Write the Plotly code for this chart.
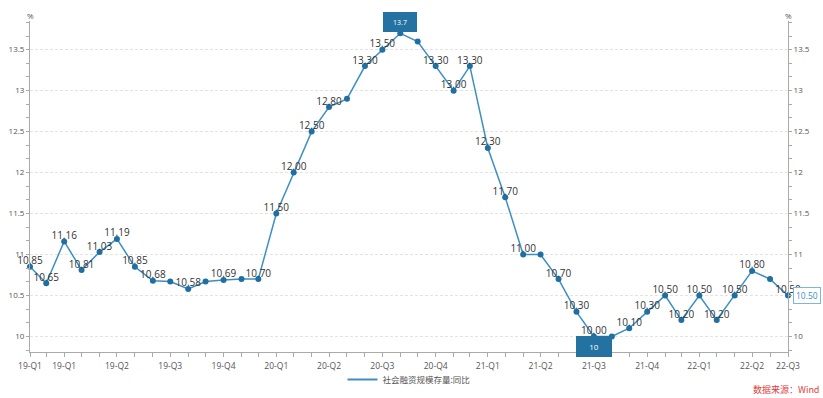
import plotly.graph_objects as go

dates = [
    "2019-01-31", "2019-02-28", "2019-03-31", "2019-04-30", "2019-05-31", "2019-06-30",
    "2019-07-31", "2019-08-31", "2019-09-30", "2019-10-31", "2019-11-30", "2019-12-31",
    "2020-01-31", "2020-02-29", "2020-03-31", "2020-04-30", "2020-05-31", "2020-06-30",
    "2020-07-31", "2020-08-31", "2020-09-30", "2020-10-31", "2020-11-30", "2020-12-31",
    "2021-01-31", "2021-02-28", "2021-03-31", "2021-04-30", "2021-05-31", "2021-06-30",
    "2021-07-31", "2021-08-31", "2021-09-30", "2021-10-31", "2021-11-30", "2021-12-31",
    "2022-01-31", "2022-02-28", "2022-03-31", "2022-04-30", "2022-05-31", "2022-06-30",
    "2022-07-31", "2022-08-31",
]
values = [
    10.85, 10.65, 11.16, 10.81, 11.03, 11.19,
    10.85, 10.68, 10.67, 10.58, 10.67, 10.69,
    10.70, 10.70, 11.50, 12.00, 12.50, 12.80,
    12.90, 13.30, 13.50, 13.70, 13.60, 13.30,
    13.00, 13.30, 12.30, 11.70, 11.00, 11.00,
    10.70, 10.30, 10.00, 10.00, 10.10, 10.30,
    10.50, 10.20, 10.50, 10.20, 10.50, 10.80,
    10.70, 10.50,
]
# point labels (blank where the original hides overlapping labels)
point_labels = [
    "10.85", "10.65", "11.16", "10.81", "11.03", "11.19",
    "10.85", "10.68", "", "10.58", "", "10.69",
    "", "10.70", "11.50", "12.00", "12.50", "12.80",
    "", "13.30", "13.50", "", "", "13.30",
    "13.00", "13.30", "12.30", "11.70", "11.00", "",
    "10.70", "10.30", "10.00", "", "10.10", "10.30",
    "10.50", "10.20", "10.50", "10.20", "10.50", "10.80",
    "", "10.50",
]
tick_labels = [
    "19-Q1", "", "19-Q1", "", "", "19-Q2",
    "", "", "19-Q3", "", "", "19-Q4",
    "", "", "20-Q1", "", "", "20-Q2",
    "", "", "20-Q3", "", "", "20-Q4",
    "", "", "21-Q1", "", "", "21-Q2",
    "", "", "21-Q3", "", "", "21-Q4",
    "", "", "22-Q1", "", "", "22-Q2",
    "", "22-Q3",
]
series_name = "社会融资规模存量:同比"
y_ticks = [10, 10.5, 11, 11.5, 12, 12.5, 13, 13.5]
y_tick_text = ["10", "10.5", "11", "11.5", "12", "12.5", "13", "13.5"]

LINE = "#3d8fc3"
MARK = "#1f6fa3"
BOX = "#2372a2"
FONT = "Open Sans, Noto Sans CJK SC, sans-serif"
CJK = "Noto Sans CJK SC, sans-serif"

fig = go.Figure()
fig.add_trace(go.Scatter(
    x=dates, y=values, mode="lines+markers",
    line=dict(color=LINE, width=1.5),
    marker=dict(color=MARK, size=6),
    showlegend=False, hoverinfo="x+y", cliponaxis=False,
))
# data labels
fig.add_trace(go.Scatter(
    x=dates, y=values, mode="text",
    text=point_labels, textposition="top center",
    textfont=dict(size=10, color="#333", family=FONT),
    showlegend=False, hoverinfo="skip", cliponaxis=False,
))
# legend entry (line only)
fig.add_trace(go.Scatter(
    x=[None], y=[None], mode="lines", name=series_name,
    line=dict(color=LINE, width=2), showlegend=True,
))
# invisible trace for right axis
fig.add_trace(go.Scatter(
    x=dates, y=values, mode="lines", yaxis="y2",
    line=dict(width=0), opacity=0, showlegend=False, hoverinfo="skip",
))

yr = [9.81, 13.85]
axis_common = dict(
    range=yr, tickvals=y_ticks, ticktext=y_tick_text,
    showline=True, linecolor="#aaa", linewidth=1,
    ticks="outside", ticklen=3, tickcolor="#aaa",
    tickfont=dict(size=8, color="#555", family=FONT),
    minor=dict(dtick=0.5 / 3, tick0=10, ticks="outside", ticklen=3, tickcolor="#aaa", showgrid=False),
    zeroline=False, automargin=False,
)
fig.update_layout(
    width=823, height=398,
    margin=dict(l=30, r=35, t=21, b=46, autoexpand=False),
    paper_bgcolor="white", plot_bgcolor="white",
    font=dict(family=FONT),
    xaxis=dict(
        type="date", range=[dates[0], dates[-1]],
        tickvals=dates, ticktext=tick_labels,
        showline=True, linecolor="#aaa", linewidth=1,
        ticks="outside", ticklen=4, tickcolor="#aaa",
        tickfont=dict(size=8.5, color="#555", family=FONT),
        showgrid=False, zeroline=False, tickangle=0,
        ticklabelstandoff=2, automargin=False,
    ),
    yaxis=dict(
        side="left", showgrid=True, gridcolor="#e3e3e3", griddash="3px,2px", gridwidth=1,
        **axis_common,
    ),
    yaxis2=dict(
        side="right", overlaying="y", showgrid=False,
        **axis_common,
    ),
    legend=dict(
        orientation="h", x=0.5, xanchor="center", y=-0.083, yanchor="middle",
        bgcolor="rgba(0,0,0,0)",
        font=dict(size=8.5, color="#555", family=CJK),
        itemwidth=30,
    ),
    showlegend=True,
)

# "%" unit labels
fig.add_annotation(xref="paper", yref="paper", x=0, y=1, yshift=13, text="%",
                   showarrow=False, font=dict(size=8, color="#555", family=FONT), xanchor="center")
fig.add_annotation(xref="paper", yref="paper", x=1, y=1, yshift=13, text="%",
                   showarrow=False, font=dict(size=8, color="#555", family=FONT), xanchor="center")

# max / min mark boxes
imax = values.index(max(values))
imin = values.index(min(values))
fig.add_annotation(x=dates[imax], y=values[imax], text=f"{values[imax]:g}",
                   showarrow=False, yanchor="bottom", yshift=1,
                   width=30, height=16, bgcolor=BOX, bordercolor=BOX,
                   font=dict(size=7, color="white", family=FONT))
fig.add_annotation(x=dates[imin], y=values[imin], text=f"{values[imin]:g}",
                   showarrow=False, yanchor="top", yshift=0,
                   width=32, height=17, bgcolor=BOX, bordercolor=BOX,
                   font=dict(size=8, color="white", family=FONT))
# end label
fig.add_annotation(x=dates[-1], y=values[-1], text=f"{values[-1]:.2f}",
                   showarrow=False, xanchor="left", xshift=5,
                   bgcolor="white", bordercolor="#7fb6d8", borderwidth=1, borderpad=2,
                   font=dict(size=8.5, color=LINE, family=FONT))

# source note
fig.add_annotation(xref="paper", yref="paper", x=1, xshift=33, y=0, yshift=-37,
                   text="数据来源：Wind", showarrow=False, xanchor="right", yanchor="middle",
                   font=dict(size=9, color="#e03c3c", family=CJK))

fig.write_html("out.html")
